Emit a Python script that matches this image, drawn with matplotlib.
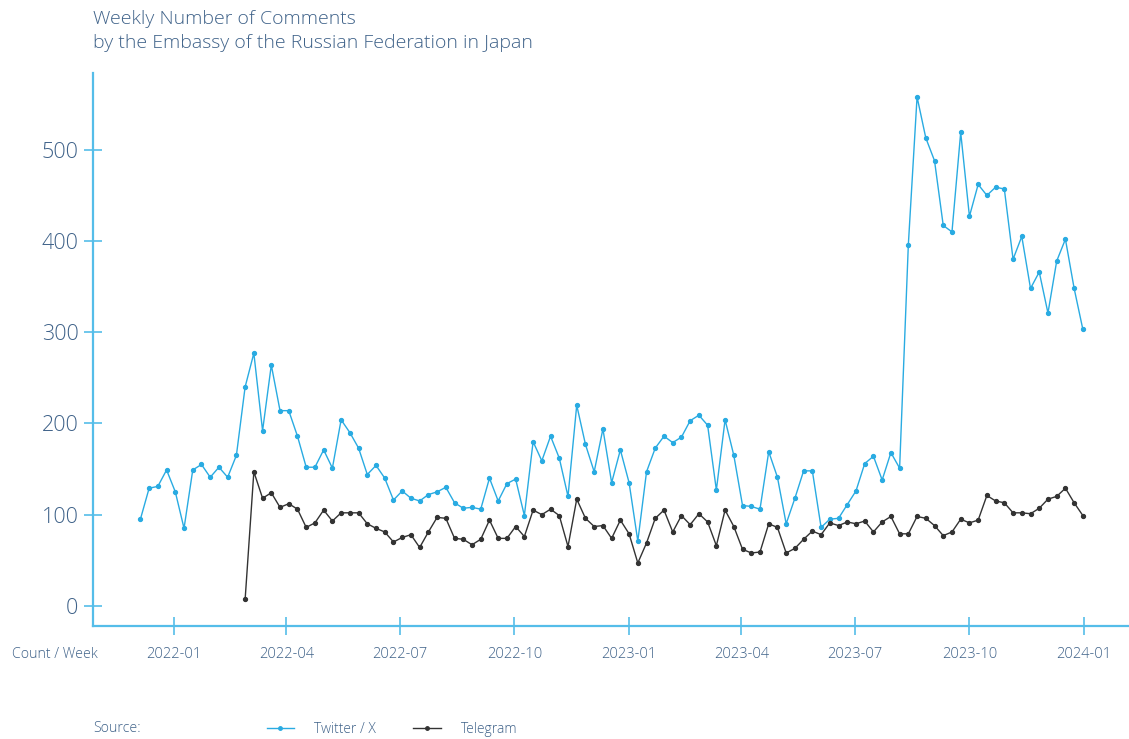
import numpy as np
import pandas as pd
import matplotlib.pyplot as plt
import matplotlib.dates as mdates
from matplotlib.lines import Line2D

plt.rcParams['font.family'] = ['Open Sans', 'DejaVu Sans']
plt.rcParams['font.weight'] = 'light'

# Weekly counts (week ending Sunday)
twitter_weeks = pd.date_range('2021-12-05', '2023-12-31', freq='W-SUN')
twitter = [95, 129, 131, 149, 125, 85, 149, 155, 141, 152, 141, 165,
           240, 277, 192, 264, 214, 214, 186, 152, 152, 171, 151, 204,
           190, 173, 144, 154, 140, 116, 126, 118, 115, 122, 125, 130,
           113, 107, 108, 106, 140, 115, 134, 139, 99, 180, 159, 186,
           162, 120, 220, 177, 147, 194, 135, 171, 135, 71, 147, 173,
           186, 179, 185, 203, 209, 198, 127, 204, 165, 110, 109, 106,
           169, 141, 90, 118, 148, 148, 86, 95, 96, 111, 126, 156,
           164, 138, 168, 151, 396, 558, 513, 488, 417, 410, 519, 427,
           462, 450, 459, 457, 380, 405, 348, 366, 321, 378, 402, 348,
           303]

telegram_weeks = pd.date_range('2022-02-27', '2023-12-31', freq='W-SUN')
telegram = [7, 147, 118, 124, 108, 112, 106, 86, 91, 105, 93, 102,
            102, 102, 90, 85, 81, 70, 75, 78, 64, 81, 97, 96,
            74, 73, 67, 73, 94, 74, 74, 87, 76, 105, 100, 106,
            99, 65, 117, 96, 87, 88, 74, 94, 79, 47, 69, 96,
            105, 81, 99, 89, 101, 92, 66, 105, 87, 62, 58, 59,
            90, 86, 58, 63, 73, 82, 78, 91, 88, 92, 90, 93,
            81, 92, 98, 79, 79, 98, 96, 88, 77, 81, 95, 91,
            94, 121, 115, 113, 102, 102, 101, 107, 117, 120, 129, 113,
            99]

blue = '#29abe2'
dark = '#333333'
axis_blue = '#55bde9'
text_col = '#3f6289'

fig = plt.figure(figsize=(11.29, 7.39), dpi=100)
ax = fig.add_axes([0.0824, 0.153, 0.9176, 0.748])

ax.plot(twitter_weeks, twitter, color=blue, lw=1.0, marker='o', ms=2.8)
ax.plot(telegram_weeks, telegram, color=dark, lw=1.0, marker='o', ms=2.8)

ax.set_ylim(-22, 584)
ax.set_xlim(pd.Timestamp('2021-10-28'), pd.Timestamp('2024-02-06'))
ax.set_yticks([0, 100, 200, 300, 400, 500])
xt = pd.to_datetime(['2022-01-01', '2022-04-01', '2022-07-01', '2022-10-01',
                     '2023-01-01', '2023-04-01', '2023-07-01', '2023-10-01',
                     '2024-01-01'])
ax.set_xticks(xt)
ax.xaxis.set_major_formatter(mdates.DateFormatter('%Y-%m'))

for s in ['top', 'right']:
    ax.spines[s].set_visible(False)
for s in ['left', 'bottom']:
    ax.spines[s].set_color(axis_blue)
    ax.spines[s].set_linewidth(1.6)

ax.tick_params(axis='y', direction='inout', length=13, width=1.2,
               color=axis_blue, labelcolor=text_col, labelsize=15.5, pad=4)
ax.tick_params(axis='x', direction='inout', length=13, width=1.2,
               color=axis_blue, labelcolor=text_col, labelsize=10.5, pad=9)

fig.text(0.0824, 0.987, 'Weekly Number of Comments\nby the Embassy of the Russian Federation in Japan',
         ha='left', va='top', fontsize=14, color=text_col, linespacing=1.45)
fig.text(0.011, 0.115, 'Count / Week', ha='left', va='center',
         fontsize=10.2, color=text_col)
fig.text(0.0824, 0.014, 'Source:', ha='left', va='center',
         fontsize=10.2, color=text_col)

handles = [Line2D([], [], color=blue, lw=1.0, marker='o', ms=2.5),
           Line2D([], [], color=dark, lw=1.0, marker='o', ms=2.5)]
leg = fig.legend(handles, ['Twitter / X', 'Telegram'], loc='center left',
                 bbox_to_anchor=(0.2312, 0.0135), ncol=2, frameon=False,
                 fontsize=10, handlelength=2.0, columnspacing=2.65,
                 handletextpad=1.45, borderaxespad=0)
for t in leg.get_texts():
    t.set_color(text_col)

fig.savefig('out.png', dpi=100)
